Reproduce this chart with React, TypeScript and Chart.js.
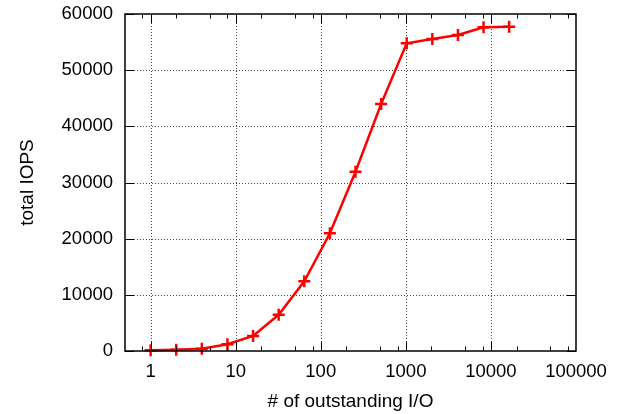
import React, { useEffect, useRef } from "react";
import { Chart, registerables } from "chart.js";

Chart.register(...registerables);

const outstandingIO = [1, 2, 4, 8, 16, 32, 64, 128, 256, 512, 1024, 2048, 4096, 8192, 16384];
const totalIOPS = [120, 230, 410, 1200, 2670, 6450, 12400, 20950, 31920, 43970, 54780, 55550, 56260, 57630, 57740];

const xMajorTicks = [1, 10, 100, 1000, 10000, 100000];
const xMinorTicks = [0.8, 2, 5, 8, 20, 50, 80, 200, 500, 800, 2000, 5000, 8000, 20000, 50000, 80000];
const yMajorTicks = [0, 10000, 20000, 30000, 40000, 50000, 60000];

const X_MIN = 0.5;
const X_MAX = 100000;
const Y_MIN = 0;
const Y_MAX = 60000;

const FONT = "'Liberation Sans', Arial, Helvetica, sans-serif";

const gnuplotFrame = {
  id: "gnuplotFrame",
  beforeDatasetsDraw(chart: any) {
    const { ctx, chartArea: a, scales } = chart;
    const x = scales.x;
    const y = scales.y;
    ctx.save();
    ctx.strokeStyle = "#444";
    ctx.lineWidth = 1;
    ctx.setLineDash([1, 2]);
    for (const v of xMajorTicks) {
      const px = Math.round(x.getPixelForValue(v)) + 0.5;
      if (px <= a.left + 2 || px >= a.right - 2) continue;
      ctx.beginPath();
      ctx.moveTo(px, a.top);
      ctx.lineTo(px, a.bottom);
      ctx.stroke();
    }
    for (const v of yMajorTicks) {
      const py = Math.round(y.getPixelForValue(v)) + 0.5;
      if (py <= a.top + 2 || py >= a.bottom - 2) continue;
      ctx.beginPath();
      ctx.moveTo(a.left, py);
      ctx.lineTo(a.right, py);
      ctx.stroke();
    }
    ctx.restore();
  },
  afterDatasetsDraw(chart: any) {
    const { ctx, chartArea: a, scales } = chart;
    const x = scales.x;
    const y = scales.y;
    const major = 9;
    const minor = 4.5;
    ctx.save();
    ctx.strokeStyle = "#000";
    ctx.lineWidth = 1;
    ctx.setLineDash([]);
    const vline = (px: number, len: number) => {
      ctx.beginPath();
      ctx.moveTo(px, a.bottom);
      ctx.lineTo(px, a.bottom - len);
      ctx.moveTo(px, a.top);
      ctx.lineTo(px, a.top + len);
      ctx.stroke();
    };
    for (const v of xMajorTicks) {
      const px = Math.round(x.getPixelForValue(v)) + 0.5;
      if (px < a.left || px > a.right) continue;
      vline(px, major);
    }
    for (const v of xMinorTicks) {
      const px = Math.round(x.getPixelForValue(v)) + 0.5;
      if (px < a.left || px > a.right) continue;
      vline(px, minor);
    }
    for (const v of yMajorTicks) {
      const py = Math.round(y.getPixelForValue(v)) + 0.5;
      ctx.beginPath();
      ctx.moveTo(a.left, py);
      ctx.lineTo(a.left + major, py);
      ctx.moveTo(a.right, py);
      ctx.lineTo(a.right - major, py);
      ctx.stroke();
    }
    ctx.lineWidth = 1.5;
    ctx.strokeRect(a.left, a.top, a.right - a.left, a.bottom - a.top);
    ctx.restore();
  },
};

export default function App() {
  const canvasRef = useRef<HTMLCanvasElement | null>(null);

  useEffect(() => {
    const canvas = canvasRef.current;
    if (!canvas) return;
    const points = outstandingIO.map((v, i) => ({ x: v, y: totalIOPS[i] }));
    const chart = new Chart(canvas, {
      type: "line",
      data: {
        datasets: [
          {
            data: points,
            borderColor: "rgb(255,0,0)",
            backgroundColor: "rgb(255,0,0)",
            borderWidth: 2.5,
            tension: 0,
            pointStyle: "cross",
            pointRadius: 6,
            pointBorderWidth: 2.5,
            pointBorderColor: "rgb(255,0,0)",
            pointHoverRadius: 6,
            clip: false as any,
          },
        ],
      },
      options: {
        animation: false,
        responsive: false,
        devicePixelRatio: 1,
        events: [],
        layout: { padding: { top: 14, right: 46, left: 0, bottom: 0 } },
        plugins: {
          legend: { display: false },
          tooltip: { enabled: false },
          title: { display: false },
        },
        scales: {
          x: {
            type: "logarithmic",
            min: X_MIN,
            max: X_MAX,
            grid: { display: false, drawTicks: false },
            border: { display: false },
            afterBuildTicks: (s: any) => {
              s.ticks = xMajorTicks.map((v) => ({ value: v }));
            },
            afterFit: (s: any) => {
              s.height = 63;
              s.paddingLeft = 0;
              s.paddingRight = 0;
            },
            ticks: {
              autoSkip: false,
              maxRotation: 0,
              minRotation: 0,
              padding: 10,
              color: "#000",
              font: { family: FONT, size: 18.5 },
              callback: (v: any) => String(v),
            },
            title: {
              display: true,
              text: "# of outstanding I/O",
              color: "#000",
              font: { family: FONT, size: 19 },
              padding: { top: 0, bottom: 1 },
            },
          },
          y: {
            type: "linear",
            min: Y_MIN,
            max: Y_MAX,
            grid: { display: false, drawTicks: false },
            border: { display: false },
            afterBuildTicks: (s: any) => {
              s.ticks = yMajorTicks.map((v) => ({ value: v }));
            },
            afterFit: (s: any) => {
              s.width = 125;
              s.paddingTop = 0;
              s.paddingBottom = 0;
            },
            ticks: {
              padding: 12,
              color: "#000",
              font: { family: FONT, size: 18.5 },
              callback: (v: any) => String(v),
            },
            title: {
              display: true,
              text: "total IOPS",
              color: "#000",
              font: { family: FONT, size: 19 },
              padding: { top: 16, bottom: 0 },
            },
          },
        },
      },
      plugins: [gnuplotFrame],
    });
    return () => chart.destroy();
  }, []);

  return (
    <canvas
      ref={canvasRef}
      width={622}
      height={414}
      style={{ position: "fixed", left: 0, top: 0, width: 622, height: 414, display: "block" }}
    />
  );
}
